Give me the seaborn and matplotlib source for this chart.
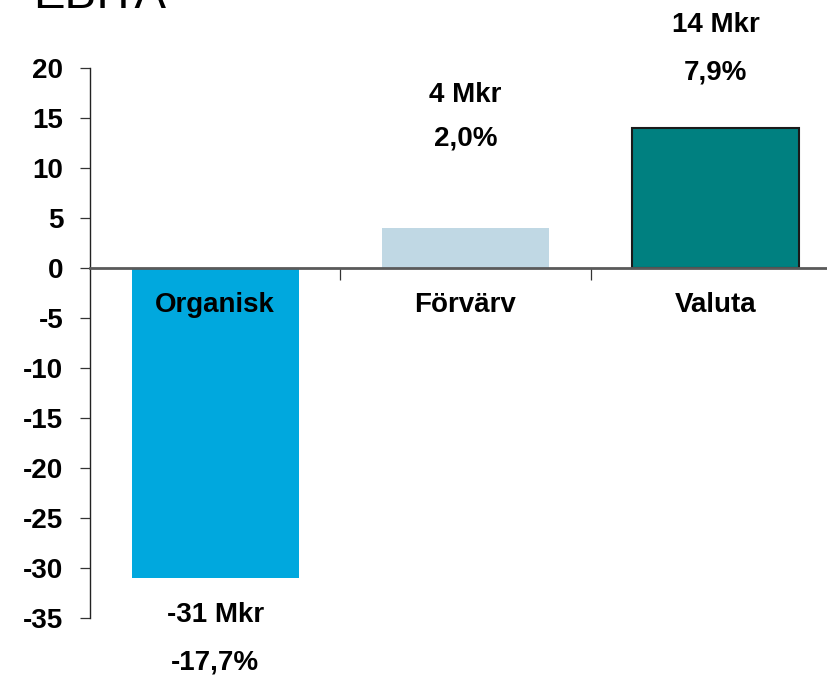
import matplotlib
matplotlib.use("Agg")
import matplotlib.pyplot as plt
import seaborn as sns
import pandas as pd

categories = ["Organisk", "Förvärv", "Valuta"]
values = [-31, 4, 14]
mkr_labels = ["-31 Mkr", "4 Mkr", "14 Mkr"]
pct_labels = ["-17,7%", "2,0%", "7,9%"]
colors = ["#00A8DE", "#C0D8E4", "#008080"]
yticks = [20, 15, 10, 5, 0, -5, -10, -15, -20, -25, -30, -35]

df = pd.DataFrame({"kategori": categories, "varde": values})

sns.set_style("white")
plt.rcParams["font.family"] = ["Liberation Sans", "DejaVu Sans"]
plt.rcParams["text.color"] = "black"

fig = plt.figure(figsize=(8.27, 6.79), dpi=100)
ax = fig.add_axes([90 / 827, 61 / 679, 751 / 827, 550 / 679])

sns.barplot(data=df, x="kategori", y="varde", hue="kategori", order=categories,
            hue_order=categories, palette=colors, width=2 / 3, legend=False,
            saturation=1, ax=ax)

# only the last bar has a dark outline
for i, bar in enumerate(ax.patches):
    if i == 2:
        bar.set_edgecolor("#1a1a1a")
        bar.set_linewidth(1.5)
    else:
        bar.set_linewidth(0)

fs = 20
ax.set_xlim(-0.5, 2.5)
ax.set_ylim(-35, 20)
ax.set_yticks(yticks)
ax.set_yticklabels([str(t) for t in yticks], fontsize=fs, fontweight="bold", color="black")
ax.set_xticks([0.5, 1.5])
ax.set_xticklabels([])
ax.set_xlabel("")
ax.set_ylabel("")

for s in ["top", "right"]:
    ax.spines[s].set_visible(False)
ax.spines["bottom"].set_position(("data", 0))
ax.spines["bottom"].set_color("#5a5a5a")
ax.spines["bottom"].set_linewidth(2)
ax.spines["left"].set_color("#222222")
ax.spines["left"].set_linewidth(1.0)
ax.tick_params(axis="y", left=True, direction="out", length=7.2, width=0.9,
               color="#333333", pad=12)
ax.tick_params(axis="x", bottom=True, direction="out", length=8.6, width=0.9,
               color="#333333")

# category names just under the zero line
for i, name in enumerate(categories):
    ax.text(i, -3.7, name, ha="center", va="center", fontsize=fs, fontweight="bold",
            clip_on=False)

# value labels, placed by hand like the original slide
mkr_y = [-34.7, 17.3, 24.3]
pct_y = [-39.4, 13.0, 19.5]
for i in range(len(categories)):
    ax.text(i, mkr_y[i], mkr_labels[i], ha="center", va="center", fontsize=fs,
            fontweight="bold", clip_on=False)
    ax.text(i, pct_y[i], pct_labels[i], ha="center", va="center", fontsize=fs,
            fontweight="bold", clip_on=False)

fig.text(33 / 827, 1 - 8 / 679, "EBITA", fontsize=34, ha="left", va="baseline")

fig.savefig("out.png", dpi=100)
